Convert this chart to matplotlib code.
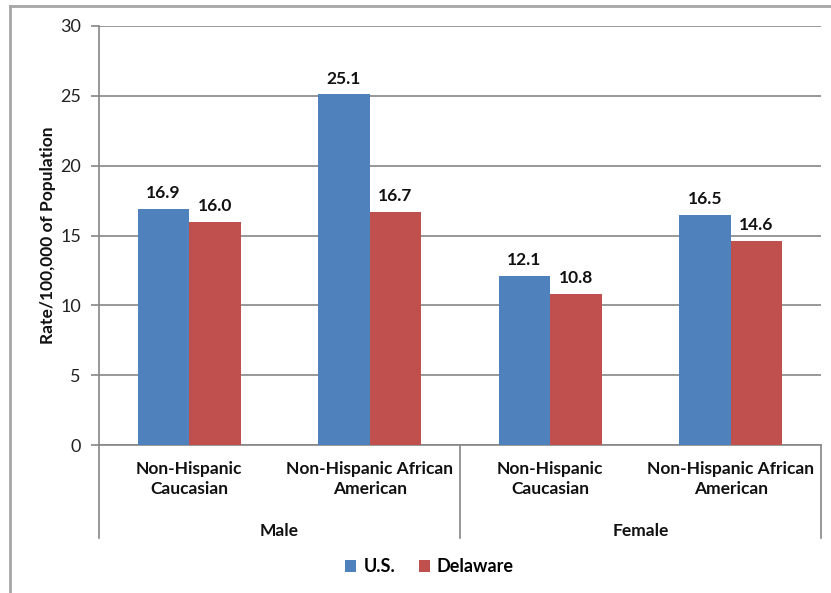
import matplotlib.pyplot as plt
from matplotlib.lines import Line2D
import numpy as np

plt.rcParams['font.family'] = ['Lato', 'DejaVu Sans']

groups = ["Male", "Female"]
categories = ["Non-Hispanic\nCaucasian", "Non-Hispanic African\nAmerican",
              "Non-Hispanic\nCaucasian", "Non-Hispanic African\nAmerican"]
us = [16.9, 25.1, 12.1, 16.5]
delaware = [16.0, 16.7, 10.8, 14.6]
series_names = ["U.S.", "Delaware"]
colors = ["#4F81BD", "#C0504D"]
axis_gray = "#868686"
text_col = "#111111"

fig = plt.figure(figsize=(8.31, 5.93), dpi=100)
ax = fig.add_axes([99 / 831, 1 - 445 / 593, 722 / 831, 419 / 593])

x = np.arange(len(categories))
w = 0.285
ax.bar(x - w / 2, us, w, color=colors[0], label=series_names[0], zorder=3)
ax.bar(x + w / 2, delaware, w, color=colors[1], label=series_names[1], zorder=3)

for i in range(len(x)):
    ax.text(x[i] - w / 2, us[i] + 0.55, "%.1f" % us[i], ha="center", va="bottom",
            fontsize=12.5, fontweight="bold", color=text_col)
    ax.text(x[i] + w / 2, delaware[i] + 0.55, "%.1f" % delaware[i], ha="center", va="bottom",
            fontsize=12.5, fontweight="bold", color=text_col)

ax.set_xlim(-0.5, len(categories) - 0.5)
ax.set_ylim(0, 30)
ax.set_yticks(range(0, 31, 5))
ax.yaxis.grid(True, color=axis_gray, linewidth=1.2, zorder=0)
ax.tick_params(axis="y", length=6, color=axis_gray, width=1.2, labelsize=13,
               labelcolor="#222222", pad=7)
ax.set_xticks([])
for s in ["top", "right"]:
    ax.spines[s].set_visible(False)
ax.spines["left"].set_color(axis_gray)
ax.spines["left"].set_linewidth(1.2)
ax.spines["bottom"].set_color(axis_gray)
ax.spines["bottom"].set_linewidth(1.2)

ax.set_ylabel("Rate/100,000 of Population", fontsize=12.5, fontweight="bold",
              labelpad=3, color=text_col)

# category labels and group separators
trans = ax.get_xaxis_transform()
for i, lab in enumerate(categories):
    ax.text(x[i], -0.038, lab, transform=trans, ha="center", va="top",
            fontsize=12.5, fontweight="bold", color=text_col, linespacing=1.3)
for k, g in enumerate(groups):
    ax.text(2 * k + 0.5, -0.185, g, transform=trans, ha="center", va="top",
            fontsize=12.5, fontweight="bold", color=text_col)
for xs in [-0.5, 1.5, 3.5]:
    ax.add_line(Line2D([xs, xs], [0, -0.223], transform=trans, color=axis_gray,
                       linewidth=1.2, clip_on=False))

fig.legend(loc="center", bbox_to_anchor=(0.517, 1 - 567 / 593), ncol=2, frameon=False,
           handlelength=0.6, handleheight=0.6, handletextpad=0.4,
           columnspacing=1.3, prop={"weight": "bold", "size": 13})

# outer frame (top and left edges)
fig.add_artist(Line2D([10 / 831, 1], [1 - 6 / 593, 1 - 6 / 593], color="#A6A6A6", linewidth=2))
fig.add_artist(Line2D([10 / 831, 10 / 831], [0, 1 - 6 / 593], color="#A6A6A6", linewidth=2))

fig.savefig("out.png", dpi=100)
